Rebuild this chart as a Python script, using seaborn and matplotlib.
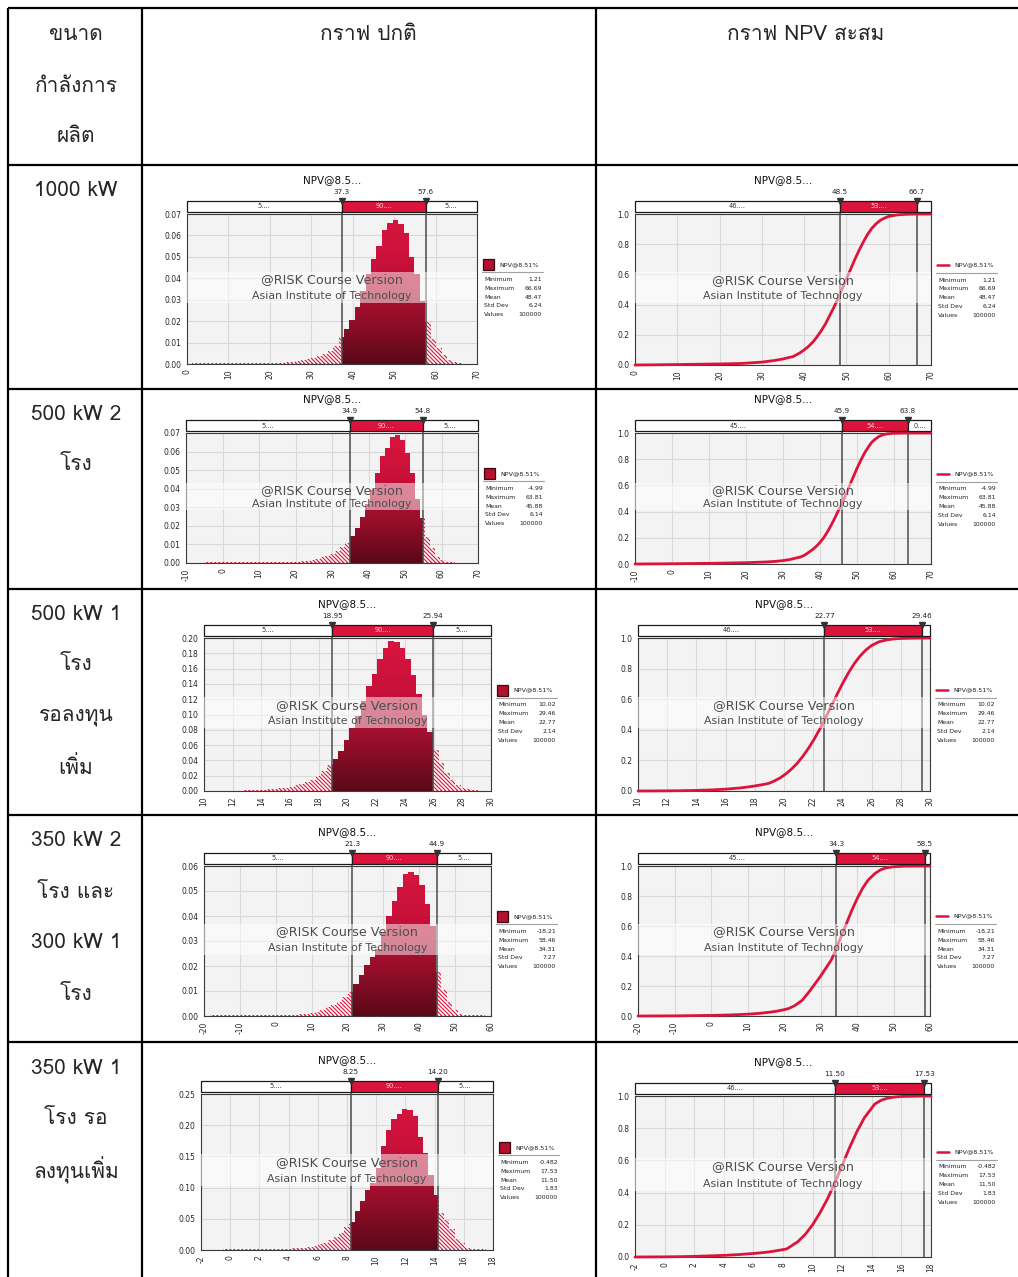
import numpy as np
import matplotlib
matplotlib.use("Agg")
import matplotlib.pyplot as plt
import matplotlib.transforms as mtransforms
from matplotlib.colors import LinearSegmentedColormap
from matplotlib.collections import LineCollection
from matplotlib.path import Path
from matplotlib.patches import PathPatch, Rectangle
from matplotlib import font_manager as fm
from matplotlib.ft2font import FT2Font
import seaborn as sns

sns.set_style("white")
plt.rcParams["font.family"] = ["DejaVu Sans"]
plt.rcParams["axes.unicode_minus"] = False

# a font that can draw Thai
thai_font = "DejaVu Sans"
for f in fm.fontManager.ttflist:
    try:
        if 0x0E01 in FT2Font(f.fname).get_charmap():
            thai_font = f.name
            break
    except Exception:
        pass

# ---------------- data ----------------
header_col1 = ["ขนาด", "กำลังการ", "ผลิต"]
header_col2 = "กราฟ ปกติ"
header_col3 = "กราฟ NPV สะสม"
row_labels = [
    ["1000 kW"],
    ["500 kW 2", "โรง"],
    ["500 kW 1", "โรง", "รอลงทุน", "เพิ่ม"],
    ["350 kW 2", "โรง และ", "300 kW 1", "โรง"],
    ["350 kW 1", "โรง รอ", "ลงทุนเพิ่ม"],
]

npv_min = [1.21, -4.99, 10.02, -18.21, -0.482]
npv_max = [66.69, 63.81, 29.46, 58.46, 17.53]
stats_text = [
    ["1.21", "66.69", "48.47", "6.24", "100000"],
    ["-4.99", "63.81", "45.88", "6.14", "100000"],
    ["10.02", "29.46", "22.77", "2.14", "100000"],
    ["-18.21", "58.46", "34.31", "7.27", "100000"],
    ["-0.482", "17.53", "11.50", "1.83", "100000"],
]
stat_names = ["Minimum", "Maximum", "Mean", "Std Dev", "Values"]

# histogram bar heights (50 bins between min and max)
h1 = [0.0004] * 13 + [0.0005, 0.0005, 0.0006, 0.0007, 0.0008, 0.001, 0.0012, 0.0017,
      0.0022, 0.0028, 0.0036, 0.0046, 0.006, 0.0085,
      0.0125, 0.0165, 0.0205, 0.0265, 0.034, 0.042, 0.049, 0.055, 0.0625, 0.066, 0.067,
      0.0655, 0.061, 0.050, 0.042, 0.0295, 0.0195, 0.0115, 0.0075, 0.004, 0.002, 0.001, 0.0005]
h2 = [0.0004] * 17 + [0.0006, 0.0007, 0.0009, 0.0012, 0.0016, 0.0022, 0.003, 0.004, 0.005,
      0.0062, 0.0085,
      0.011, 0.0145, 0.019, 0.025, 0.032, 0.0395, 0.0485, 0.0575, 0.062, 0.068, 0.0688,
      0.0665, 0.059, 0.0485, 0.0345, 0.024, 0.014, 0.0083, 0.0035, 0.0018, 0.0006, 0.0004]
h3 = [0.0003] * 5 + [0.0005, 0.0006, 0.0008, 0.001, 0.0013, 0.0016, 0.002, 0.0027, 0.0035,
      0.0045, 0.0058, 0.0075, 0.0095, 0.012, 0.015, 0.019, 0.026, 0.034,
      0.042, 0.052, 0.067, 0.082, 0.098, 0.118, 0.137, 0.153, 0.172, 0.187, 0.196, 0.195,
      0.187, 0.172, 0.151, 0.127, 0.100, 0.077,
      0.053, 0.037, 0.024, 0.014, 0.008, 0.004, 0.002, 0.001, 0.0005]
h4 = [0.0003] * 14 + [0.0005, 0.0006, 0.0007, 0.0009, 0.0012, 0.0018, 0.0025, 0.0035,
      0.0045, 0.0058, 0.0075, 0.0095,
      0.013, 0.0166, 0.0205, 0.0235, 0.027, 0.0335, 0.040, 0.046, 0.0515, 0.0568, 0.0575,
      0.0565, 0.0525, 0.045, 0.036, 0.0177, 0.0104, 0.0057, 0.0024, 0.001,
      0.0003, 0.0003, 0.0003, 0.0003]
h5 = [0.0015] * 12 + [0.002, 0.0025, 0.003, 0.004, 0.005, 0.007, 0.009, 0.012, 0.016,
      0.021, 0.028, 0.037,
      0.045, 0.063, 0.0785, 0.096, 0.108, 0.131, 0.167, 0.192, 0.21, 0.218, 0.226, 0.2245,
      0.214, 0.181, 0.155, 0.12, 0.088,
      0.059, 0.048, 0.033, 0.018, 0.011, 0.004, 0.0015, 0.001, 0.001]
hist_heights = [h1, h2, h3, h4, h5]

# 90% interval markers on the density charts
pdf_lo = [37.3, 34.9, 18.95, 21.3, 8.25]
pdf_hi = [57.6, 54.8, 25.94, 44.9, 14.20]
pdf_lo_lbl = ["37.3", "34.9", "18.95", "21.3", "8.25"]
pdf_hi_lbl = ["57.6", "54.8", "25.94", "44.9", "14.20"]
pdf_band_lbl = ["5....", "90....", "5...."]

# markers on the cumulative charts
cdf_lo = [48.5, 45.9, 22.77, 34.3, 11.50]
cdf_hi = [66.7, 63.8, 29.46, 58.5, 17.53]
cdf_lo_lbl = ["48.5", "45.9", "22.77", "34.3", "11.50"]
cdf_hi_lbl = ["66.7", "63.8", "29.46", "58.5", "17.53"]
cdf_band_lbl = [
    ["46....", "53....", ""],
    ["45....", "54....", "0...."],
    ["46....", "53....", ""],
    ["45....", "54....", ""],
    ["46....", "53....", ""],
]

# cumulative curves
cx1 = [0, 10, 20, 25, 30, 33, 35, 36, 37.3, 38, 39, 40, 41, 42, 43, 44, 45, 46, 47, 48, 49,
       50, 51, 52, 53, 54, 55, 56, 57, 58, 59, 60, 62, 64, 66.7, 70]
cy1 = [0, 0.003, 0.007, 0.01, 0.019, 0.03, 0.04, 0.047, 0.055, 0.065, 0.08, 0.1, 0.122, 0.15,
       0.185, 0.225, 0.27, 0.325, 0.38, 0.44, 0.505, 0.57, 0.635, 0.7, 0.76, 0.815, 0.865,
       0.905, 0.935, 0.958, 0.973, 0.984, 0.994, 0.998, 1.0, 1.0]
cx2 = [-10, 0, 10, 20, 25, 28, 30, 32, 33, 34.9, 36, 37, 38, 39, 40, 41, 42, 43, 44, 45, 45.9,
       47, 48, 49, 50, 51, 52, 53, 54, 54.8, 56, 57, 58, 60, 63.8, 70]
cy2 = [0, 0.002, 0.005, 0.01, 0.015, 0.02, 0.026, 0.035, 0.042, 0.055, 0.07, 0.09, 0.11, 0.135,
       0.165, 0.2, 0.245, 0.295, 0.35, 0.41, 0.46, 0.53, 0.6, 0.665, 0.73, 0.79, 0.845, 0.89,
       0.93, 0.95, 0.975, 0.986, 0.993, 0.998, 1.0, 1.0]
cx3 = [10, 12, 13, 14, 15, 16, 17, 17.5, 18, 18.5, 18.96, 19.35, 19.74, 20.13, 20.52, 20.91,
       21.3, 21.69, 22.08, 22.47, 22.86, 23.25, 23.64, 24.03, 24.42, 24.81, 25.2, 25.59, 25.98,
       26.5, 27, 27.5, 28, 29.46, 30]
cy3 = [0, 0.001, 0.002, 0.004, 0.007, 0.012, 0.02, 0.026, 0.033, 0.041, 0.05, 0.066, 0.086,
       0.112, 0.144, 0.182, 0.228, 0.281, 0.341, 0.408, 0.481, 0.557, 0.633, 0.706, 0.773,
       0.832, 0.881, 0.92, 0.95, 0.975, 0.987, 0.994, 0.997, 1.0, 1.0]
cx4 = [-20, -10, 0, 5, 10, 13, 16, 18, 20, 21.3, 23, 25, 27, 28.5, 30, 31.5, 33, 34.3, 35.5,
       37, 38.5, 40, 41.5, 43, 44.9, 46.5, 48, 50, 53, 58.5, 60]
cy4 = [0, 0.001, 0.004, 0.007, 0.012, 0.017, 0.025, 0.032, 0.042, 0.05, 0.07, 0.105, 0.165,
       0.215, 0.265, 0.32, 0.375, 0.45, 0.52, 0.61, 0.7, 0.78, 0.85, 0.905, 0.95, 0.975,
       0.988, 0.995, 0.999, 1.0, 1.0]
cx5 = [-2, 0, 1, 2, 3, 4, 5, 6, 6.5, 7, 7.5, 8.25, 9, 9.5, 10, 10.5, 11, 11.5, 12, 12.5, 13,
       13.5, 14.2, 14.6, 15, 15.5, 16, 17, 17.53, 18]
cy5 = [0, 0.001, 0.002, 0.004, 0.007, 0.01, 0.015, 0.022, 0.026, 0.031, 0.038, 0.05, 0.095,
       0.14, 0.2, 0.275, 0.36, 0.46, 0.57, 0.68, 0.78, 0.865, 0.95, 0.972, 0.985, 0.993, 0.997,
       0.999, 1.0, 1.0]
cdf_x = [cx1, cx2, cx3, cx4, cx5]
cdf_y = [cy1, cy2, cy3, cy4, cy5]

x_limits = [(0, 70), (-10, 70), (10, 30), (-20, 60), (-2, 18)]
x_steps = [10, 10, 2, 10, 2]
pdf_ymax = [0.07, 0.07, 0.20, 0.06, 0.25]
pdf_ystep = [0.01, 0.01, 0.02, 0.01, 0.05]

# ---------------- layout (pixels) ----------------
W, H = 1018, 1277
pdf_boxes = [(187, 214, 477, 364), (186, 433, 478, 563), (204, 638, 491, 791),
             (204, 866, 491, 1016), (201, 1094, 493, 1250)]
cdf_boxes = [(635, 214, 931, 365), (635, 433, 931, 564), (638, 638, 930, 791),
             (638, 866, 930, 1016), (635, 1096, 931, 1257)]
row_label_y = [191, 414, 614, 841, 1068]
row_lines = [8, 165, 389, 589, 815, 1042]
col_lines = [8, 142, 596]

crimson = "#dc143c"
grad_cmap = LinearSegmentedColormap.from_list("npv", ["#5a0918", "#9a0e2b", "#c9113a", "#d8163e"])

fig = plt.figure(figsize=(W / 100, H / 100), dpi=100)
bg = fig.add_axes([0, 0, 1, 1])
bg.set_xlim(0, W)
bg.set_ylim(H, 0)
bg.set_axis_off()

# table grid
for y in row_lines:
    bg.plot([col_lines[0], W], [y, y], color="black", lw=1.6, solid_capstyle="butt")
for x in col_lines:
    bg.plot([x, x], [row_lines[0], H], color="black", lw=1.6, solid_capstyle="butt")

# header / row labels
for i, s in enumerate(header_col1):
    bg.text(76, 35 + 51 * i, s, ha="center", va="center", fontsize=15, family=[thai_font, "DejaVu Sans"])
bg.text(368, 35, header_col2, ha="center", va="center", fontsize=15, family=[thai_font, "DejaVu Sans"])
bg.text(806, 35, header_col3, ha="center", va="center", fontsize=15, family=[thai_font, "DejaVu Sans"])
for r, lines in enumerate(row_labels):
    for i, s in enumerate(lines):
        bg.text(76, row_label_y[r] + 51 * i, s, ha="center", va="center", fontsize=15,
                family=[thai_font, "DejaVu Sans"])


def add_axes_px(box):
    l, t, r, b = box
    return fig.add_axes([l / W, 1 - b / H, (r - l) / W, (b - t) / H])


def style_axes(ax, xlim, xstep, ymax, ystep, yfmt):
    ax.set_facecolor("#f3f3f3")
    ax.set_xlim(*xlim)
    ax.set_ylim(0, ymax)
    ax.set_xticks(np.arange(xlim[0], xlim[1] + 0.001, xstep))
    ax.set_yticks(np.arange(0, ymax + 1e-9, ystep))
    ax.set_yticklabels([yfmt % v for v in ax.get_yticks()])
    ax.grid(True, color="#d9d9d9", lw=0.8)
    ax.set_axisbelow(True)
    ax.tick_params(axis="x", labelrotation=90, labelsize=5.5, length=2.5, pad=1.5, color="#444")
    ax.tick_params(axis="y", labelsize=5.5, length=2.5, pad=1.5, color="#444")
    for sp in ax.spines.values():
        sp.set_color("#3a3a3a")
        sp.set_linewidth(0.8)
    ax.set_xlabel("")
    ax.set_ylabel("")


def bars_path(rects):
    verts, codes = [], []
    for a, b, h in rects:
        verts += [(a, 0), (b, 0), (b, h), (a, h), (a, 0)]
        codes += [Path.MOVETO, Path.LINETO, Path.LINETO, Path.LINETO, Path.CLOSEPOLY]
    return Path(verts, codes)


def top_band(ax, box, lo, hi, lo_lbl, hi_lbl, labels):
    hpx = box[3] - box[1]
    tr = mtransforms.blended_transform_factory(ax.transData, ax.transAxes)
    y0, y1 = 1 + 2 / hpx, 1 + 13 / hpx
    x0, x1 = ax.get_xlim()
    bounds = [x0, lo, hi, x1]
    fills = ["white", crimson, "white"]
    for i in range(3):
        ax.add_patch(Rectangle((bounds[i], y0), bounds[i + 1] - bounds[i], y1 - y0, transform=tr,
                               facecolor=fills[i], edgecolor="#1a1a1a", lw=0.9, clip_on=False, zorder=5))
        if labels[i]:
            ax.text((bounds[i] + bounds[i + 1]) / 2, (y0 + y1) / 2, labels[i], transform=tr,
                    ha="center", va="center", fontsize=4.8,
                    color="#ffd6de" if i == 1 else "#333333", zorder=6)
    for v, s in [(lo, lo_lbl), (hi, hi_lbl)]:
        ax.plot([v, v], [0, y0], transform=tr, color="#4a4a4a", lw=1.1, clip_on=False, zorder=3)
        ax.plot([v], [y1], transform=tr, marker="v", color="#333333", ms=4.5, clip_on=False, zorder=7)
        ax.text(v, y1 + 9 / hpx, s, transform=tr, ha="center", va="center", fontsize=5.2,
                color="#222222")
    ax.text(0.5, y1 + 21 / hpx, "NPV@8.5...", transform=ax.transAxes, ha="center", va="center",
            fontsize=7.5, color="#111111")


def watermark(ax):
    ax.add_patch(Rectangle((0, 0.41), 1, 0.205, transform=ax.transAxes, facecolor="white",
                           edgecolor="none", alpha=0.5, zorder=4))
    ax.text(0.5, 0.56, "@RISK Course Version", transform=ax.transAxes, ha="center", va="center",
            fontsize=9.2, color="#4d4d4d", zorder=8)
    ax.text(0.5, 0.455, "Asian Institute of Technology", transform=ax.transAxes, ha="center",
            va="center", fontsize=7.9, color="#4d4d4d", zorder=8)


def stats_box(box, stats, kind):
    l, t, r, b = box
    mid = (t + b) / 2
    if kind == "pdf":
        bg.add_patch(Rectangle((r + 6, mid - 30), 11, 11, facecolor="#b3112f", edgecolor="#3a0610", lw=0.9))
        bg.text(r + 22, mid - 24.5, "NPV@8.51%", fontsize=4.6, va="center", color="#222")
    else:
        bg.plot([r + 6, r + 18], [mid - 25, mid - 25], color=crimson, lw=1.8)
        bg.text(r + 23, mid - 25, "NPV@8.51%", fontsize=4.6, va="center", color="#222")
    bg.plot([r + 5, r + 66], [mid - 17, mid - 17], color="#a0a0a0", lw=0.8)
    for i, (name, val) in enumerate(zip(stat_names, stats)):
        y = mid - 9.5 + 8.8 * i
        bg.text(r + 7, y, name, fontsize=4.4, va="center", color="#222")
        bg.text(r + 65, y, val, fontsize=4.4, va="center", ha="right", color="#222")


for k in range(5):
    # ---------- density chart ----------
    box = pdf_boxes[k]
    ax = add_axes_px(box)
    style_axes(ax, x_limits[k], x_steps[k], pdf_ymax[k], pdf_ystep[k], "%.2f")
    lo, hi = pdf_lo[k], pdf_hi[k]
    heights = hist_heights[k]
    width = (npv_max[k] - npv_min[k]) / len(heights)
    tails, solid = [], []
    for i, h in enumerate(heights):
        a = npv_min[k] + i * width
        b = a + width
        if a < lo:
            tails.append((a, min(b, lo), h))
        if b > hi:
            tails.append((max(a, hi), b, h))
        if min(b, hi) > max(a, lo):
            solid.append((max(a, lo), min(b, hi), h))

    # tails: red bars with white diagonal stripes
    ax.bar([t[0] for t in tails], [t[2] for t in tails], width=[t[1] - t[0] for t in tails],
           align="edge", color=crimson, linewidth=0, zorder=2)
    tail_clip = PathPatch(bars_path(tails), transform=ax.transData, facecolor="none", edgecolor="none")
    ax.add_patch(tail_clip)
    l, t, r, b = box
    ytop, ybot = H - t, H - b
    hgt = ytop - ybot
    segs = [[(c, ytop), (c + hgt, ybot)] for c in np.arange(l - hgt, r + 4, 4.0)]
    stripes = LineCollection(segs, colors="white", linewidths=1.2,
                             transform=mtransforms.IdentityTransform(), zorder=2.1)
    ax.add_collection(stripes, autolim=False)
    stripes.set_clip_path(tail_clip)

    # middle 90%: gradient filled bars
    clip = PathPatch(bars_path(solid), transform=ax.transData, facecolor="none", edgecolor="none")
    ax.add_patch(clip)
    xl, yl = ax.get_xlim(), ax.get_ylim()
    im = ax.imshow(np.linspace(0, 1, 256).reshape(-1, 1), cmap=grad_cmap, aspect="auto",
                   extent=[xl[0], xl[1], yl[0], yl[1]], origin="lower", zorder=2)
    im.set_clip_path(clip)
    ax.set_xlim(*xl)
    ax.set_ylim(*yl)
    top_band(ax, box, lo, hi, pdf_lo_lbl[k], pdf_hi_lbl[k], pdf_band_lbl)
    watermark(ax)
    stats_box(box, stats_text[k], "pdf")

    # ---------- cumulative chart ----------
    ax2 = add_axes_px(cdf_boxes[k])
    style_axes(ax2, x_limits[k], x_steps[k], 1.0, 0.2, "%.1f")
    sns.lineplot(x=cdf_x[k], y=cdf_y[k], ax=ax2, color=crimson, lw=2.0, zorder=3.5, clip_on=False)
    ax2.set_xlim(*x_limits[k])
    ax2.set_ylim(0, 1.0)
    ax2.set_xlabel("")
    ax2.set_ylabel("")
    top_band(ax2, cdf_boxes[k], cdf_lo[k], cdf_hi[k], cdf_lo_lbl[k], cdf_hi_lbl[k], cdf_band_lbl[k])
    watermark(ax2)
    stats_box(cdf_boxes[k], stats_text[k], "cdf")

fig.savefig("out.png", dpi=100)
